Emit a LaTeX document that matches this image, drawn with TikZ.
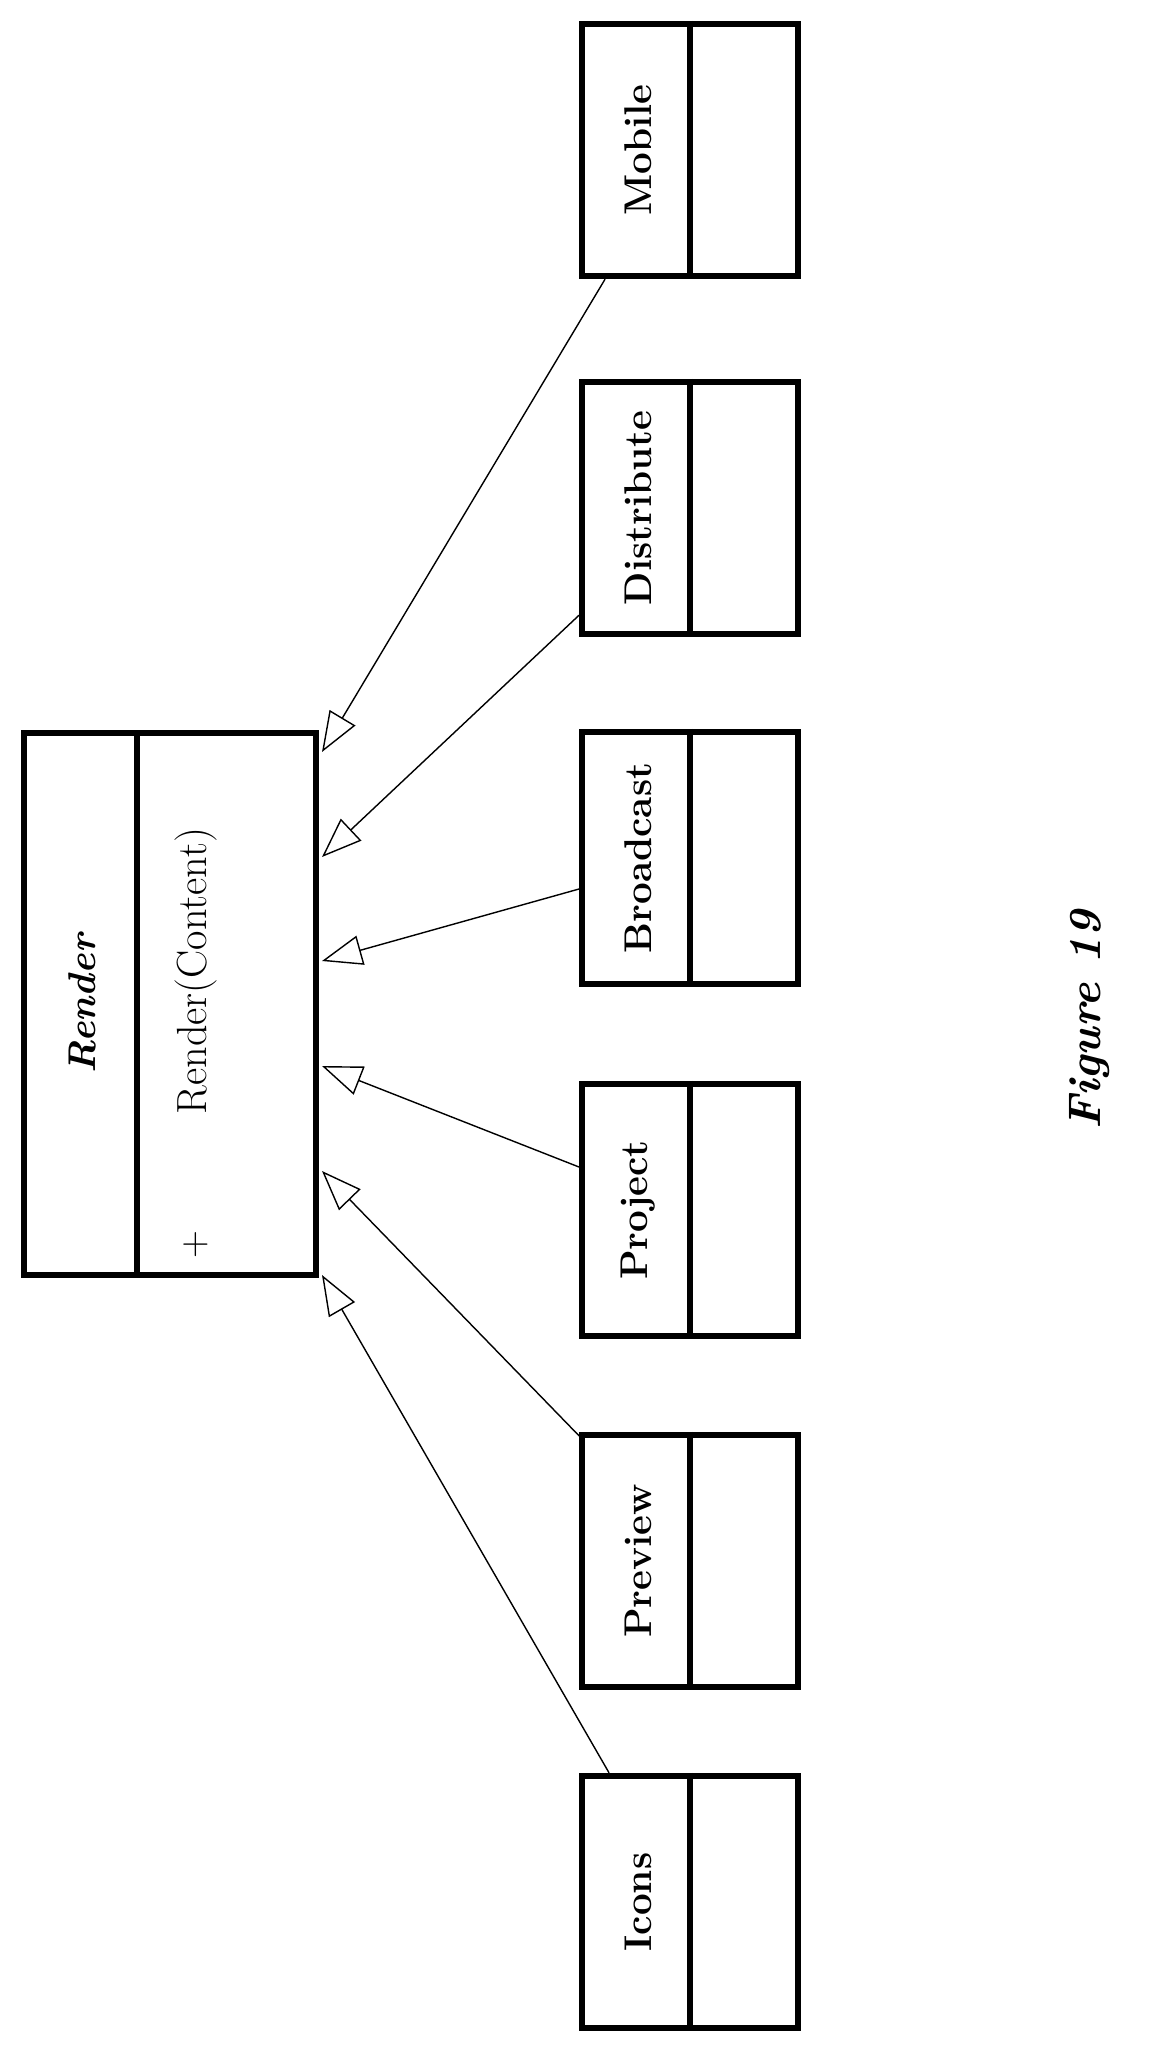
\documentclass[tikz,border=0pt]{standalone}
\usepackage{tikz}
\usetikzlibrary{arrows.meta,positioning}

\begin{document}
\begin{tikzpicture}
        [ x=0.02cm, y=-0.02cm,
          every node/.style = {inner sep=0pt},
          class box/.style = {draw=black,line width=3.4pt,rectangle,
                               minimum width=4.32cm,minimum height=5.05cm},
          class name/.style = {rotate=90,font=\fontsize{22}{26}\selectfont\bfseries},
          generalize/.style = {draw=black,line width=0.8pt,
                               -{Triangle[open,length=0.8cm,width=0.6cm,line width=0.8pt]}}]
        \useasboundingbox (0,0) rectangle (1151,2059);
        % abstract class
        \node[class box,minimum width=5.84cm,minimum height=10.84cm] (render) at (170,1004) {};
        \draw[line width=3.4pt] (137,733) -- (137,1275);
        \node[class name,font=\fontsize{22}{26}\selectfont\bfseries\itshape] (rendername) at (82,1004) {Render};
        \node[class name,font=\fontsize{24}{28}\selectfont] (renderop) at (196,971) {Render(Content)};
        \node[class name,font=\fontsize{22}{26}\selectfont] (renderplus) at (196,1245) {+};
        % concrete classes
        \foreach \name/\txt/\y in {mobile/Mobile/150, distribute/Distribute/508,
                                   broadcast/Broadcast/858, project/Project/1210,
                                   preview/Preview/1561, icons/Icons/1902}{
            \node[class box] (\name) at (690,\y) {};
            \draw[line width=3.4pt] (\name.north) -- (\name.south);
            \node[class name] (\name label) at (638,\y) {\txt};
        }
        % arrow ends
        \coordinate (tmobile) at (322,752);
        \coordinate (tdistribute) at (322,857);
        \coordinate (tbroadcast) at (322,961);
        \coordinate (tproject) at (322,1066);
        \coordinate (tpreview) at (322,1171);
        \coordinate (ticons) at (322,1275);
        \draw[generalize] (mobile.south west) ++(26,0) coordinate (smobile) -- (tmobile);
        \draw[generalize] ([yshift=0.44cm]distribute.south west) -- (tdistribute);
        \draw[generalize] ([yshift=-0.62cm]broadcast.west) -- (tbroadcast);
        \draw[generalize] ([yshift=0.86cm]project.west) -- (tproject);
        \draw[generalize] ([yshift=-0.08cm]preview.north west) -- (tpreview);
        \draw[generalize] (icons.north west) ++(30,0) coordinate (sicons) -- (ticons);
        % caption
        \node[rotate=90,font=\fontsize{26}{30}\selectfont\bfseries\itshape] (caption) at (1090,1020) {Figure 19};
\end{tikzpicture}
\end{document}
